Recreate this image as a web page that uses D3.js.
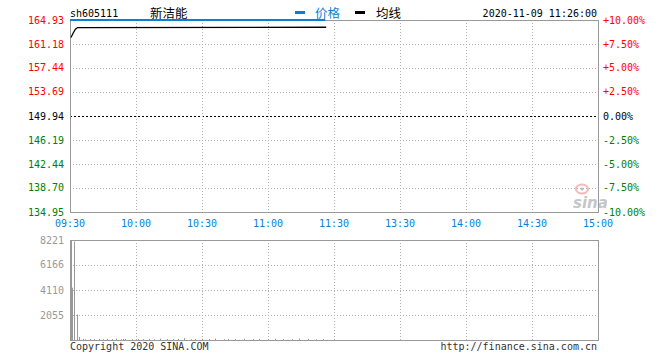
<!DOCTYPE html>
<html><head><meta charset="utf-8">
<script src="https://cdn.jsdelivr.net/npm/d3@7/dist/d3.min.js"></script>
<style>
html,body{margin:0;padding:0;background:#fff;}
svg{display:block;}
text{font-family:"DejaVu Sans Mono","Liberation Mono",monospace;font-size:10px;}
</style></head>
<body>
<script>
// ---- data ----
const symbol = "sh605111";
const stockName = "新洁能";
const timestamp = "2020-11-09 11:26:00";
const legendLabels = ["价格", "均线"];
const timeTickMinutes = [0, 30, 60, 90, 120, 150, 180, 210, 240];
const timeTickLabels = ["09:30", "10:00", "10:30", "11:00", "11:30", "13:30", "14:00", "14:30", "15:00"];
const priceTicks = [164.93, 161.18, 157.44, 153.69, 149.94, 146.19, 142.44, 138.70, 134.95];
const pctTicks = ["+10.00%", "+7.50%", "+5.00%", "+2.50%", "0.00%", "-2.50%", "-5.00%", "-7.50%", "-10.00%"];
const prevClose = 149.94;
const volTicks = [8221, 6166, 4110, 2055];
const volMax = 8221;
// price line (minute index from 09:30, price)
const priceMinutes = [0, 116];
const priceValues = [164.93, 164.93];
// average line
const avgMinutes = [0, 1, 2, 3, 116];
const avgValues = [162.2, 162.9, 163.5, 163.75, 163.8];
// volume bars (minute index, volume)
const volMinutes = [0, 1, 2, 3, 4, 6, 7, 9, 11, 13, 15, 17, 19, 21, 23, 24, 25, 28, 31, 33, 36, 38, 41, 44, 47, 49, 52, 55, 57, 60, 63, 66, 70, 72, 75, 79, 83, 86, 90, 93, 97, 101, 104, 108, 112, 115];
const volValues = [8221, 4300, 8100, 2100, 250, 90, 60, 80, 70, 100, 60, 90, 80, 120, 70, 100, 90, 60, 80, 70, 100, 60, 120, 80, 70, 90, 160, 60, 80, 100, 70, 120, 60, 90, 80, 110, 70, 90, 60, 100, 80, 70, 120, 90, 60, 80];

// ---- layout ----
const W = 660, H = 360;
const L = 70, R = 598, T = 20, B = 212, VT = 240, VB = 340;
const svg = d3.select("body").append("svg").attr("width", W).attr("height", H);

const x = d3.scaleLinear().domain([0, 240]).range([L, R]);
const y = d3.scaleLinear().domain([priceTicks[priceTicks.length - 1], priceTicks[0]]).range([B, T]);
const yv = d3.scaleLinear().domain([0, volMax]).range([VB, VT]);

const gridColor = "#b0b0b0", axisColor = "#999";
const red = "#ff0000", green = "#008000", blue = "#0a7fd4";

// price grid
const g = svg.append("g");
priceTicks.slice(1, -1).forEach(p => {
  g.append("line").attr("x1", L).attr("x2", R).attr("y1", Math.round(y(p)) + 0.5).attr("y2", Math.round(y(p)) + 0.5)
    .attr("stroke", p === prevClose ? "#000" : gridColor)
    .attr("stroke-dasharray", p === prevClose ? "2,2" : "1,2");
});
timeTickMinutes.slice(1, -1).forEach(m => {
  const xx = Math.round(x(m)) + 0.5;
  g.append("line").attr("x1", xx).attr("x2", xx).attr("y1", T).attr("y2", B).attr("stroke", gridColor).attr("stroke-dasharray", "1,2");
  g.append("line").attr("x1", xx).attr("x2", xx).attr("y1", VT).attr("y2", VB).attr("stroke", gridColor).attr("stroke-dasharray", "1,2");
});
volTicks.slice(1).forEach(v => {
  g.append("line").attr("x1", L).attr("x2", R).attr("y1", Math.round(yv(v)) + 0.5).attr("y2", Math.round(yv(v)) + 0.5)
    .attr("stroke", gridColor).attr("stroke-dasharray", "1,2");
});

// sina watermark
const wm = svg.append("g").attr("opacity", 0.55);
wm.append("ellipse").attr("cx", 582).attr("cy", 189).attr("rx", 6).attr("ry", 4.5).attr("fill", "none").attr("stroke", "#f08080").attr("stroke-width", 2);
wm.append("circle").attr("cx", 582).attr("cy", 189).attr("r", 1.5).attr("fill", "#888");
wm.append("text").attr("x", 573).attr("y", 208).attr("fill", "#999").style("font-family", "DejaVu Sans").style("font-size", "15px").style("font-weight", "bold").style("font-style", "italic").text("sina");

// borders
const ax = svg.append("g").attr("stroke", axisColor).attr("fill", "none");
ax.append("rect").attr("x", L + 0.5).attr("y", T + 0.5).attr("width", R - L).attr("height", B - T);
ax.append("rect").attr("x", L + 0.5).attr("y", VT + 0.5).attr("width", R - L).attr("height", VB - VT);

// volume bars
svg.append("g").selectAll("rect").data(volMinutes).join("rect")
  .attr("x", (m) => Math.round(x(m)) + (m === 0 ? 1 : 0))
  .attr("width", 1)
  .attr("y", (m, i) => yv(volValues[i]))
  .attr("height", (m, i) => VB - yv(volValues[i]))
  .attr("fill", "#999");

// price line
const line = d3.line().x(d => x(d[0])).y(d => y(d[1]));
svg.append("path").datum(priceMinutes.map((m, i) => [m, priceValues[i]]))
  .attr("d", line).attr("fill", "none").attr("stroke", blue).attr("stroke-width", 2);
svg.append("path").datum(avgMinutes.map((m, i) => [m, avgValues[i]]))
  .attr("d", d3.line().x(d => x(d[0]) + 1).y(d => y(d[1]))).attr("fill", "none").attr("stroke", "#000").attr("stroke-width", 1.3);

// left price labels
priceTicks.forEach((p, i) => {
  const c = p > prevClose ? red : (p < prevClose ? green : "#000");
  svg.append("text").attr("x", 64).attr("y", y(p)).attr("dy", "0.35em").attr("text-anchor", "end").attr("fill", c).text(p.toFixed(2));
  svg.append("text").attr("x", 603).attr("y", y(p)).attr("dy", "0.35em").attr("text-anchor", "start").attr("fill", c).text(pctTicks[i]);
});
// time labels
timeTickMinutes.forEach((m, i) => {
  svg.append("text").attr("x", x(m)).attr("y", 223).attr("dy", "0.35em").attr("text-anchor", "middle").attr("fill", blue).text(timeTickLabels[i]);
});
// volume labels
volTicks.forEach(v => {
  svg.append("text").attr("x", 64).attr("y", yv(v)).attr("dy", "0.35em").attr("text-anchor", "end").attr("fill", "#999").text(v);
});

// header
svg.append("text").attr("x", 70).attr("y", 17).attr("fill", "#000").text(symbol);
svg.append("text").attr("x", 150).attr("y", 17.5).attr("fill", "#000").style("font-family", "Noto Sans CJK SC").style("font-size", "12.5px").text(stockName);
svg.append("rect").attr("x", 295).attr("y", 11).attr("width", 10).attr("height", 3).attr("fill", blue);
svg.append("text").attr("x", 315).attr("y", 17.5).attr("fill", blue).style("font-family", "Noto Sans CJK SC").style("font-size", "12.5px").text(legendLabels[0]);
svg.append("rect").attr("x", 355).attr("y", 11).attr("width", 10).attr("height", 3).attr("fill", "#000");
svg.append("text").attr("x", 376).attr("y", 17.5).attr("fill", "#000").style("font-family", "Noto Sans CJK SC").style("font-size", "12.5px").text(legendLabels[1]);
svg.append("text").attr("x", 597).attr("y", 17).attr("text-anchor", "end").attr("fill", "#000").text(timestamp);

// footer
svg.append("text").attr("x", 70).attr("y", 350).attr("fill", "#333").text("Copyright 2020 SINA.COM");
svg.append("text").attr("x", 597).attr("y", 350).attr("text-anchor", "end").attr("fill", "#333").text("http://finance.sina.com.cn");
</script>
</body></html>
